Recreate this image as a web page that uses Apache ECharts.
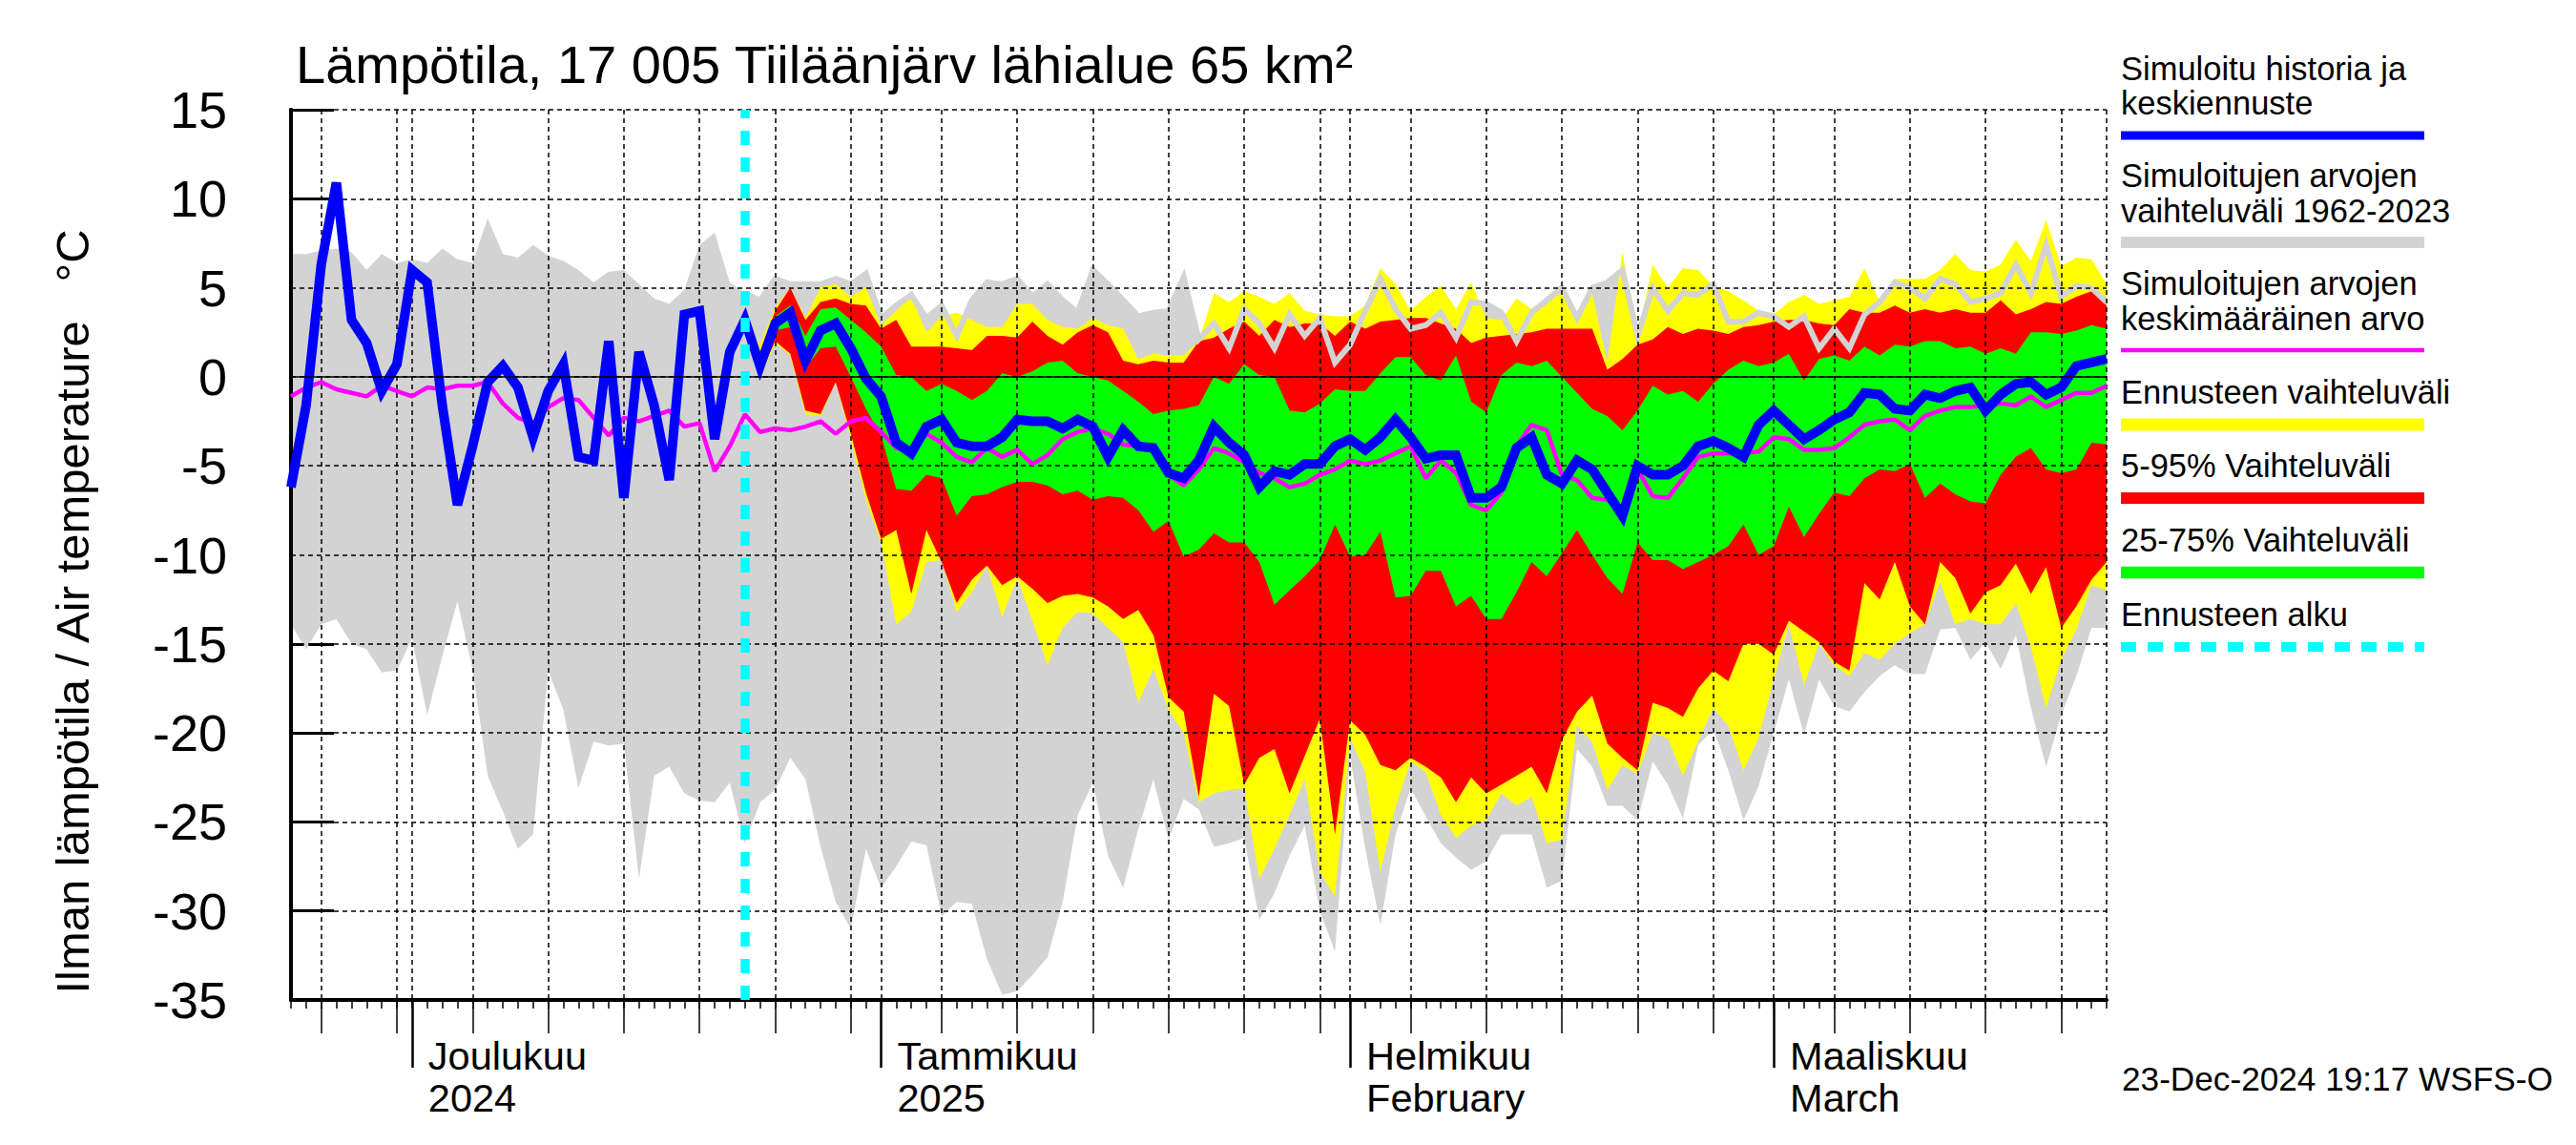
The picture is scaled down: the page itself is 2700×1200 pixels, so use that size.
<!DOCTYPE html>
<html>
<head>
<meta charset="utf-8">
<script src="https://cdn.jsdelivr.net/npm/echarts/dist/echarts.min.js"></script>
<style>html,body{margin:0;padding:0;background:#fff}#c{width:2700px;height:1200px}</style>
</head>
<body>
<div id="c"></div>
<script>
// ---------- data (daily, 2024-11-23 .. 2025-03-23) ----------
const startDate = '2024-11-23';
const nDays = 121;
const forecastStart = 30; // 2024-12-23

const monthLabels = {
  '2024-12-01': 'Joulukuu\n2024',
  '2025-01-01': 'Tammikuu\n2025',
  '2025-02-01': 'Helmikuu\nFebruary',
  '2025-03-01': 'Maaliskuu\nMarch'
};
const yTicks = [-35, -30, -25, -20, -15, -10, -5, 0, 5, 10, 15];

// Simuloitu historia ja keskiennuste
const blueLine = [
 -6.2,-1.6,6.3,10.9,3.2,1.9,-0.8,0.7,6.0,5.3,
 -1.6,-7.2,-3.9,-0.3,0.6,-0.6,-3.4,-0.8,0.7,-4.5,
 -4.7,2.0,-6.8,1.4,-1.6,-5.8,3.5,3.7,-3.5,1.4,
 3.2,0.6,3.0,3.6,0.9,2.6,3.0,1.6,-0.1,-1.1,
 -3.7,-4.3,-2.8,-2.4,-3.7,-3.9,-3.9,-3.4,-2.4,-2.5,
 -2.5,-2.9,-2.4,-2.8,-4.5,-3.0,-3.9,-4.0,-5.4,-5.7,
 -4.7,-2.8,-3.7,-4.4,-6.2,-5.3,-5.5,-4.9,-4.9,-3.9,
 -3.5,-4.1,-3.4,-2.4,-3.4,-4.6,-4.4,-4.4,-6.8,-6.8,
 -6.2,-4.0,-3.4,-5.5,-6.0,-4.7,-5.2,-6.5,-7.8,-5.0,
 -5.5,-5.5,-5.0,-3.9,-3.6,-4.0,-4.5,-2.7,-1.9,-2.7,
 -3.5,-3.0,-2.4,-2.0,-0.9,-1.0,-1.8,-1.9,-1.0,-1.2,
 -0.8,-0.6,-1.9,-1.0,-0.4,-0.3,-1.0,-0.6,0.6,0.8,
 1.0
];
// Simuloitujen arvojen keskimääräinen arvo
const meanLine = [
 -1.1,-0.6,-0.3,-0.7,-0.9,-1.1,-0.5,-0.8,-1.1,-0.6,
 -0.7,-0.5,-0.5,-0.3,-1.5,-2.3,-2.6,-1.7,-1.2,-1.3,
 -2.3,-3.3,-2.3,-2.5,-2.2,-1.9,-2.8,-2.6,-5.3,-3.9,
 -2.1,-3.1,-2.9,-3.0,-2.8,-2.5,-3.2,-2.5,-2.3,-3.1,
 -4.0,-4.2,-3.2,-3.7,-4.5,-4.8,-4.0,-4.5,-4.1,-4.9,
 -4.4,-3.5,-3.1,-2.9,-3.2,-3.8,-3.9,-4.1,-5.5,-6.1,
 -5.2,-4.0,-4.3,-4.8,-5.4,-5.7,-6.2,-6.0,-5.5,-5.2,
 -4.7,-4.9,-4.7,-4.3,-3.9,-5.7,-4.7,-5.4,-7.2,-7.5,
 -6.5,-3.9,-2.7,-3.0,-5.5,-5.8,-6.8,-6.9,-7.6,-5.2,
 -6.7,-6.8,-5.7,-4.5,-4.3,-4.3,-4.3,-4.2,-3.4,-3.5,
 -4.1,-4.1,-4.0,-3.4,-2.7,-2.5,-2.4,-3.0,-2.2,-1.9,
 -1.7,-1.7,-1.6,-1.5,-1.6,-1.1,-1.7,-1.3,-0.9,-0.9,
 -0.5
];
// Simuloitujen arvojen vaihteluväli 1962-2023
const histMax = [
 6.9,6.9,7.1,7.2,7.0,6.0,6.9,6.4,6.6,6.4,
 7.2,6.6,6.4,8.9,6.9,6.7,7.4,6.8,6.5,6.0,
 5.3,5.9,6.0,5.2,4.4,4.1,4.9,7.4,8.1,5.3,
 4.7,4.3,5.5,5.2,5.2,5.2,5.5,5.2,5.8,3.3,
 4.0,4.6,3.3,4.0,2.3,4.3,5.3,5.2,5.5,4.5,
 5.2,4.3,3.6,6.0,5.2,4.3,3.4,3.6,3.7,5.6,
 2.1,3.0,1.6,3.8,3.0,1.6,3.5,2.3,3.3,0.8,
 1.8,3.7,5.5,3.8,2.7,2.9,3.6,2.2,4.2,4.1,
 3.6,2.0,3.6,4.3,5.0,3.3,5.0,5.3,6.0,2.3,
 5.0,3.7,4.7,4.6,5.2,3.1,3.1,3.6,3.4,2.8,
 3.4,1.6,2.7,1.6,3.5,4.2,5.3,5.0,4.4,5.5,
 5.2,4.2,4.4,4.7,6.3,4.7,7.4,4.5,5.1,5.0,
 4.2
];
const histMin = [
 -13.9,-15.3,-13.9,-13.6,-15.0,-15.3,-16.6,-16.5,-14.7,-19.0,
 -15.7,-12.6,-16.4,-22.4,-24.4,-26.5,-25.7,-16.5,-18.7,-23.1,
 -20.5,-20.7,-20.6,-28.2,-22.4,-21.9,-23.4,-23.8,-23.9,-22.8,
 -26.2,-23.9,-23.2,-21.4,-22.6,-26.4,-29.5,-31.0,-26.5,-28.7,
 -27.5,-26.1,-26.3,-30.3,-29.5,-29.6,-32.7,-34.7,-34.5,-33.6,
 -32.6,-29.5,-24.6,-22.8,-26.9,-28.7,-25.4,-22.6,-26.0,-23.7,
 -24.3,-26.4,-26.2,-25.9,-30.5,-29.0,-26.9,-25.2,-30.0,-32.3,
 -21.3,-26.5,-30.8,-25.7,-23.1,-24.7,-26.2,-27.0,-27.7,-27.2,
 -25.7,-25.7,-25.7,-28.7,-28.3,-20.9,-21.9,-24.1,-24.1,-24.9,
 -21.6,-22.9,-24.8,-20.7,-19.8,-22.1,-24.9,-23.0,-20.0,-17.0,
 -20.1,-17.0,-18.5,-18.8,-17.7,-16.8,-16.2,-16.7,-16.7,-14.2,
 -14.1,-15.9,-14.9,-16.4,-14.5,-18.6,-21.9,-19.0,-16.8,-14.1,
 -14.1
];
// Forecast bands, from 2024-12-23 (index 30) onwards
const fcMax = [
 3.2,1.8,3.9,5.0,3.3,5.0,5.2,4.5,5.0,2.9,
 3.7,4.5,2.5,3.4,3.6,3.2,2.8,2.8,4.1,4.1,
 3.2,2.8,2.7,3.3,2.9,2.7,1.0,1.3,1.2,1.2,
 2.0,4.7,4.2,4.8,4.5,4.1,4.7,3.7,3.5,3.4,
 3.4,4.0,6.1,5.2,3.7,4.5,5.1,3.8,5.3,3.3,
 3.2,4.4,3.8,4.3,4.7,3.3,4.7,0.8,7.0,2.2,
 6.3,5.0,6.1,6.0,5.1,4.8,4.3,3.7,3.5,4.2,
 4.6,4.1,4.3,4.5,6.1,4.2,5.5,5.5,5.5,6.0,
 6.9,6.0,5.9,6.3,7.7,6.5,8.8,6.2,6.7,6.6,
 5.2
];
const fcMin = [
 3.2,-0.1,1.9,1.2,-2.1,-2.2,-0.3,-3.5,-6.9,-9.3,
 -13.9,-13.2,-10.4,-10.3,-13.2,-12.1,-10.6,-13.5,-11.3,-13.7,
 -16.2,-14.1,-13.2,-13.3,-14.1,-14.9,-18.3,-16.4,-18.7,-20.0,
 -23.9,-23.4,-23.2,-23.1,-28.2,-26.5,-24.6,-22.6,-27.8,-29.2,
 -20.3,-22.2,-27.8,-24.2,-21.6,-22.2,-24.6,-25.9,-25.2,-24.9,
 -23.4,-24.1,-23.6,-26.2,-26.0,-19.6,-20.5,-23.2,-21.8,-22.3,
 -20.0,-20.3,-22.4,-20.5,-18.6,-19.6,-22.1,-20.3,-17.0,-13.9,
 -17.3,-15.0,-16.2,-16.8,-15.5,-15.9,-15.0,-14.4,-13.9,-11.5,
 -13.9,-13.6,-13.9,-13.9,-12.7,-15.2,-18.6,-15.9,-14.2,-11.7,
 -12.0
];
const p95 = [
 3.2,1.3,3.7,5.0,3.2,4.2,4.4,4.1,4.0,2.7,
 3.2,1.7,1.7,1.7,1.6,1.5,2.3,2.3,2.2,3.1,
 2.3,1.8,2.5,2.9,2.5,0.9,0.7,0.9,0.8,0.8,
 2.0,2.2,2.7,3.1,2.3,3.2,2.8,3.0,3.0,2.3,
 3.1,2.7,3.1,3.2,3.3,3.3,3.0,2.7,1.9,2.2,
 2.3,2.4,2.5,2.7,2.7,2.7,2.7,0.4,1.0,1.8,
 2.1,2.8,2.4,2.7,2.6,2.4,2.8,2.9,3.1,3.2,
 3.2,3.0,2.9,3.8,3.6,3.6,4.0,3.6,3.8,3.6,
 3.8,3.6,3.6,4.3,3.5,3.8,4.2,4.1,4.5,4.8,
 4.0
];
const p05 = [
 3.2,0.1,2.0,1.3,-1.9,-2.1,-0.3,-3.2,-6.5,-9.1,
 -8.6,-12.2,-8.6,-10.4,-12.7,-11.4,-10.6,-11.7,-11.2,-11.9,
 -12.7,-12.3,-12.2,-12.4,-12.9,-13.6,-13.1,-14.5,-18.0,-18.8,
 -23.6,-17.8,-18.5,-22.9,-21.4,-20.9,-23.4,-21.3,-19.2,-25.7,
 -19.3,-20.1,-21.8,-22.1,-21.4,-21.9,-22.5,-23.9,-22.5,-23.4,
 -22.9,-22.4,-21.9,-23.4,-20.4,-18.8,-17.9,-20.6,-21.4,-22.1,
 -18.3,-18.6,-19.1,-17.5,-16.5,-17.1,-15.0,-15.0,-15.6,-13.7,
 -14.3,-14.9,-16.0,-16.5,-11.6,-12.5,-10.4,-12.9,-13.9,-10.4,
 -11.3,-13.3,-12.1,-11.7,-10.5,-12.2,-10.7,-14.1,-12.9,-11.4,
 -10.4
];
const p75 = [
 3.2,0.9,3.4,4.0,2.3,3.8,3.9,3.2,2.5,1.7,
 0.1,0.0,-0.8,-0.4,-0.8,-1.3,-0.8,0.2,0.0,0.3,
 0.8,0.9,0.2,0.0,-0.2,-0.8,-1.4,-2.1,-1.9,-1.8,
 -1.6,0.0,-0.4,0.7,0.1,0.0,-1.9,-2.0,-1.5,-0.7,
 -0.8,-0.8,0.2,1.1,1.1,0.1,-0.2,1.2,-1.4,-2.0,
 0.1,0.8,0.6,0.9,0.0,-0.9,-1.8,-2.2,-3.0,-1.9,
 -0.5,-1.0,-0.8,-1.4,-0.4,0.4,0.9,0.6,0.8,1.3,
 -0.2,1.0,1.2,0.9,1.7,1.2,1.8,1.7,2.0,2.0,
 1.6,1.7,1.3,1.6,1.3,2.5,2.5,2.4,2.6,2.9,
 2.7
];
const p25 = [
 3.2,0.3,2.6,2.8,0.5,1.6,1.7,0.0,-1.8,-3.3,
 -6.3,-6.4,-5.5,-5.7,-7.8,-6.7,-6.6,-6.2,-5.9,-5.9,
 -6.1,-6.6,-6.4,-6.9,-6.7,-6.8,-7.5,-8.7,-8.1,-10.1,
 -9.7,-8.8,-9.3,-9.3,-10.4,-12.8,-12.0,-11.2,-10.3,-8.3,
 -10.1,-10.0,-8.7,-12.4,-12.3,-10.9,-10.9,-12.9,-12.3,-13.6,
 -13.6,-12.1,-10.4,-11.2,-9.9,-8.6,-10.0,-11.3,-12.2,-9.3,
 -10.3,-10.3,-10.8,-10.4,-10.0,-9.5,-8.3,-10.0,-9.5,-7.3,
 -9.0,-7.7,-6.5,-6.7,-5.7,-5.2,-5.3,-4.9,-6.8,-6.0,
 -6.6,-7.0,-7.1,-5.5,-4.5,-4.0,-5.2,-5.4,-5.2,-3.7,
 -3.8
];

// ---------- helpers ----------
const dates = [];
(function () {
  const t0 = Date.parse(startDate + 'T00:00:00Z');
  for (let i = 0; i < nDays; i++) {
    dates.push(new Date(t0 + i * 86400000).toISOString().slice(0, 10));
  }
})();
const dom = s => +s.slice(8, 10);
const padFc = arr => new Array(forecastStart).fill(null).concat(arr);

const FONT = "'Liberation Sans', Arial, Helvetica, sans-serif";
const C = {
  grey: '#d3d3d3', yellow: '#ffff00', red: '#ff0000', green: '#00ff00',
  blue: '#0000ff', magenta: '#ff00ff', cyan: '#00ffff'
};

function band(id, lo, hi, color) {
  return [
    { type: 'line', name: id + '_lo', stack: id, stackStrategy: 'all', data: lo,
      symbol: 'none', silent: true, lineStyle: { width: 0, opacity: 0 }, z: 2, animation: false },
    { type: 'line', name: id, stack: id, stackStrategy: 'all',
      data: hi.map((v, i) => (v == null || lo[i] == null) ? null : +(v - lo[i]).toFixed(2)),
      symbol: 'none', silent: true, lineStyle: { width: 0, opacity: 0 },
      areaStyle: { color: color, opacity: 1 }, z: 2, animation: false }
  ];
}

const baseX = {
  type: 'category', data: dates, boundaryGap: false, gridIndex: 0, position: 'bottom',
  axisLine: { show: false, onZero: false }, axisTick: { show: false },
  axisLabel: { show: false }, splitLine: { show: false }
};
const gridDays = [1, 5, 10, 15, 20, 25, 30];
const fiveDays = [5, 10, 15, 20, 25, 30];

const xAxes = [
  Object.assign({}, baseX, {
    axisLine: { show: true, onZero: false, lineStyle: { color: '#000', width: 4 } },
    axisTick: { show: true, interval: 0, length: 9, lineStyle: { color: '#000', width: 1.5 } }
  }),
  Object.assign({}, baseX, {
    axisTick: { show: true, interval: (i, v) => fiveDays.includes(dom(v)), length: 35,
      lineStyle: { color: '#000', width: 1.5 } }
  }),
  Object.assign({}, baseX, {
    axisTick: { show: true, interval: (i, v) => dom(v) === 1, length: 71,
      lineStyle: { color: '#000', width: 2.5 } },
    axisLabel: { show: true, interval: (i, v) => dom(v) === 1,
      formatter: v => monthLabels[v] || '',
      align: 'left', verticalAlign: 'top', padding: [0, 0, 0, 17], margin: 36,
      fontSize: 41.5, lineHeight: 44, color: '#000', fontFamily: FONT }
  }),
  Object.assign({}, baseX, {
    z: 3,
    splitLine: { show: true, interval: (i, v) => gridDays.includes(dom(v)) || i === nDays - 1,
      lineStyle: { color: '#000', width: 1.5, type: [5, 4] } }
  })
];

const baseY = { type: 'value', min: yTicks[0], max: yTicks[yTicks.length - 1], interval: 5,
  gridIndex: 0, position: 'left' };
const yAxes = [
  Object.assign({}, baseY, {
    axisLine: { show: true, onZero: false, lineStyle: { color: '#000', width: 4 } },
    axisTick: { show: true, inside: true, length: 45, lineStyle: { color: '#000', width: 3 } },
    axisLabel: { show: true, margin: 67, fontSize: 54, color: '#000', fontFamily: FONT,
      padding: [0, 0, 16, 0] },
    splitLine: { show: false }
  }),
  Object.assign({}, baseY, {
    z: 3,
    axisLine: { show: true, onZero: false, lineStyle: { color: '#000', width: 4 } },
    axisTick: { show: false }, axisLabel: { show: false },
    splitLine: { show: true, lineStyle: { color: '#000', width: 1.5, type: [5, 4] } }
  })
];

const series = [].concat(
  band('hist', histMin, histMax.map((v, i) => Math.max(v, histMin[i])), C.grey),
  band('fc', padFc(fcMin), padFc(fcMax), C.yellow),
  band('p90', padFc(p05), padFc(p95), C.red),
  band('p50', padFc(p25), padFc(p75), C.green),
  [
    { type: 'line', name: 'histMaxLine', data: histMax.map((v, i) => i < forecastStart ? null : v),
      symbol: 'none', silent: true, z: 2, animation: false,
      lineStyle: { color: C.grey, width: 6, join: 'miter' },
      markLine: { silent: true, symbol: ['none', 'none'], label: { show: false },
        lineStyle: { color: '#000', width: 1.5, type: 'solid' }, data: [{ yAxis: 0 }], animation: false }
    },
    { type: 'line', name: 'mean', data: meanLine, symbol: 'none', silent: true, z: 4, animation: false,
      lineStyle: { color: C.magenta, width: 4.5 } },
    { type: 'line', name: 'sim', data: blueLine, symbol: 'none', silent: true, z: 4, animation: false,
      lineStyle: { color: C.blue, width: 10, join: 'miter' },
      markLine: { silent: true, symbol: ['none', 'none'], label: { show: false },
        lineStyle: { color: C.cyan, width: 9.5, type: [15, 13] },
        data: [{ xAxis: dates[forecastStart] }], animation: false }
    }
  ]
);

// ---------- legend & texts ----------
const LX = 2223, LX2 = 2541, LF = 34.5;
const legendTexts = [
  ['Simuloitu historia ja', 72], ['keskiennuste', 108],
  ['Simuloitujen arvojen', 184], ['vaihteluväli 1962-2023', 221],
  ['Simuloitujen arvojen', 297], ['keskimääräinen arvo', 334],
  ['Ennusteen vaihteluväli', 411],
  ['5-95% Vaihteluväli', 488],
  ['25-75% Vaihteluväli', 566],
  ['Ennusteen alku', 644]
];
const legendBars = [
  [142, C.blue, 9, null], [254, C.grey, 12, null], [367, C.magenta, 4.5, null],
  [445, C.yellow, 13, null], [522, C.red, 12, null], [600, C.green, 12.5, null],
  [678, C.cyan, 10, [16, 12]]
];
const graphics = [
  { type: 'text', x: 310, y: 67, silent: true,
    style: { text: 'Lämpötila, 17 005 Tiiläänjärv lähialue 65 km²', fill: '#000',
      font: '56px ' + FONT, textAlign: 'left', textVerticalAlign: 'middle' } },
  { type: 'text', x: 76, y: 641, rotation: Math.PI / 2, silent: true,
    style: { text: 'Ilman lämpötila / Air temperature   °C', fill: '#000',
      font: '49px ' + FONT, textAlign: 'center', textVerticalAlign: 'middle' } },
  { type: 'text', x: 2224, y: 1130, silent: true,
    style: { text: '23-Dec-2024 19:17 WSFS-O', fill: '#000',
      font: '35.2px ' + FONT, textAlign: 'left', textVerticalAlign: 'middle' } }
];
legendTexts.forEach(([t, y]) => graphics.push({ type: 'text', x: LX, y: y, silent: true,
  style: { text: t, fill: '#000', font: LF + 'px ' + FONT, textAlign: 'left', textVerticalAlign: 'middle' } }));
legendBars.forEach(([y, col, w, dash]) => graphics.push({ type: 'line', silent: true,
  shape: { x1: LX, y1: y, x2: LX2, y2: y },
  style: { stroke: col, lineWidth: w, lineDash: dash || null } }));

const chart = echarts.init(document.getElementById('c'), null, { renderer: 'svg', width: 2700, height: 1200 });
chart.setOption({
  animation: false,
  backgroundColor: '#fff',
  grid: { left: 305, right: 492, top: 115, bottom: 152, containLabel: false },
  xAxis: xAxes,
  yAxis: yAxes,
  series: series,
  graphic: graphics
});
</script>
</body>
</html>
